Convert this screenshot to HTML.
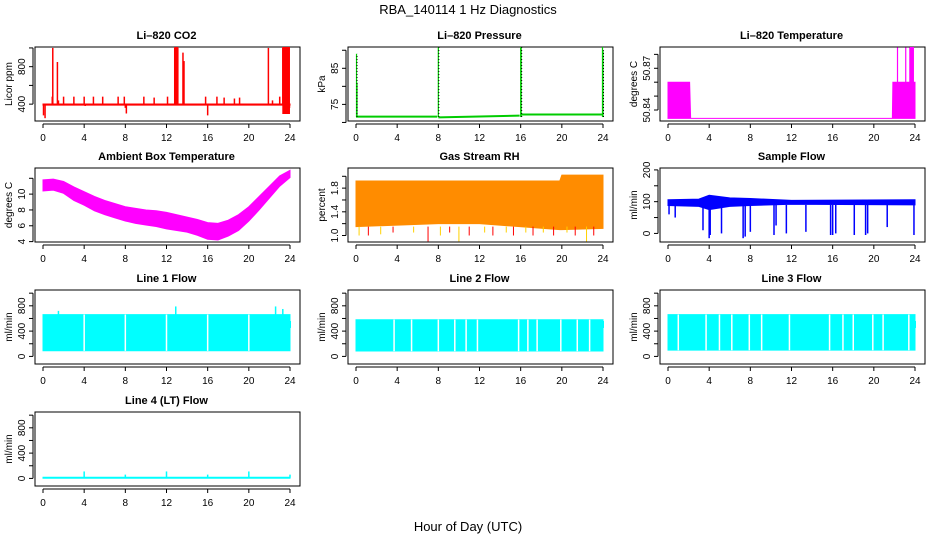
<!DOCTYPE html>
<html><head><meta charset="utf-8"><style>
html,body{margin:0;padding:0;background:#fff}
svg{display:block;font-family:"Liberation Sans",sans-serif}
</style></head><body>
<svg id="chart" width="936" height="540" viewBox="0 0 936 540" xmlns="http://www.w3.org/2000/svg">
<text x="468" y="14" text-anchor="middle" font-size="13">RBA_140114  1 Hz Diagnostics</text>
<text x="468" y="531" text-anchor="middle" font-size="13">Hour of Day (UTC)</text>
</svg>
<script>
// ---- data arrays ----
const xTicks = [0,4,8,12,16,20,24];
// CO2
const co2Base = 395;
const co2SpikeT = [0.05,0.2,0.9,0.95,1.4,1.5,2.0,3.0,4.0,4.1,4.9,5.8,7.3,7.9,8.0,8.1,9.8,10.8,12.1,12.8,12.9,13.0,13.1,13.6,13.7,15.8,16.0,16.9,17.6,18.6,19.1,21.9,22.3,23.0,23.3,23.45,23.55,23.65,23.75,23.85,23.95];
const co2SpikeV = [280,250,480,1000,850,440,480,480,480,380,480,480,480,480,360,300,480,470,480,1000,1000,1000,1000,950,860,480,280,480,470,460,470,1000,440,480,1000,1000,1000,1000,1000,1000,360];
// Pressure
const presSegT = [0,7.9,8.0,15.9,16.0,23.9];
const presSegV = [71.6,71.6,71.4,71.9,72.2,72.2];
const presSpikeT = [0.05,0.1,8.0,16.0,16.05,23.95,24.0];
const presSpikeV = [89,81,91,91,91,91,90];
// Li-820 temperature
const tempBandT = [0,2.1,2.2,21.8,21.85,24];
const tempBandHi = [50.860,50.860,50.834,50.834,50.860,50.860];
const tempBandLo = [50.834,50.834,50.834,50.834,50.834,50.834];
const tempSpikeT = [22.3,23.1,23.5,23.6,23.7,23.8];
const tempSpikeV = [50.885,50.885,50.885,50.885,50.885,50.885];
// Ambient box temperature (hourly)
const ambT = [0,1,2,3,4,5,6,7,8,9,10,11,12,13,14,15,16,17,18,19,20,21,22,23,24];
const ambHi = [11.8,11.9,11.6,10.9,10.3,9.7,9.2,8.8,8.4,8.2,8.0,7.9,7.7,7.4,7.1,6.8,6.4,6.3,6.7,7.4,8.4,9.7,11.0,12.3,13.0];
const ambLo = [10.4,10.5,10.1,9.2,8.6,7.9,7.4,7.0,6.6,6.3,6.1,5.9,5.6,5.4,5.2,4.8,4.3,4.2,4.7,5.4,6.6,8.0,9.5,11.0,12.1];
// Gas stream RH
const rhT = [0,8,12,19.8,20,24];
const rhHi = [1.92,1.92,1.92,1.92,2.02,2.02];
const rhLo = [1.15,1.2,1.2,1.1,1.1,1.12];
const rhDipT = [0.3,1.2,2.4,3.6,5.6,7.0,8.2,9.1,10.0,11.0,12.5,13.3,14.6,15.3,16.5,17.2,18.2,19.2,20.5,21.3,22.4,23.1];
const rhDipV = [1.0,1.0,1.02,1.05,1.05,0.9,1.0,1.05,0.9,1.0,1.05,1.0,1.05,1.0,1.05,1.0,1.05,1.0,1.05,1.0,0.9,1.0];
// Sample flow
const sfT = [0,3,4,6,8,12,24];
const sfHi = [106,108,120,112,110,104,106];
const sfLo = [88,85,75,85,88,92,90];
const sfDipT = [0.1,0.7,3.4,4.0,4.1,5.2,7.3,7.5,8.0,10.3,10.5,11.5,13.4,15.8,16.0,16.3,18.1,19.2,19.4,21.3,23.9];
const sfDipV = [60,50,10,-15,-5,0,-15,-10,5,-5,25,0,5,-5,-5,0,-5,-5,0,20,-5];
// Line flows
const l1Hi = 660, l1Lo = 90;
const l1GapT = [4.0,8.0,12.0,16.0,20.0];
const l1SpikeT = [1.5,12.9,22.6,23.3];
const l1SpikeV = [720,790,790,750];
const l2Hi = 580, l2Lo = 85;
const l2GapT = [3.7,5.4,8.0,9.6,10.7,11.8,15.8,16.7,17.6,19.9,21.5,22.7];
const l3Hi = 660, l3Lo = 100;
const l3GapT = [1.0,3.7,5.0,6.2,7.9,9.1,11.8,15.7,17.0,18.0,19.9,20.9,23.4];
const l4Base = 10;
const l4SpikeT = [4.0,8.0,12.0,16.0,20.0,24.0];
const l4SpikeV = [110,60,110,60,110,60];

// ---- layout ----
const NS = "http://www.w3.org/2000/svg";
const svg = document.getElementById('chart');
const colL = [33,346,658], rowT = [47,168,290,412], W = 267, H = 74;
function mk(tag, attrs, parent){
  const e = document.createElementNS(NS, tag);
  for (const k in attrs) e.setAttribute(k, attrs[k]);
  (parent||svg).appendChild(e);
  return e;
}
function panel(col,row,name,title,ylab,ymin,ymax,ticks,labels){
  const L = colL[col], T = rowT[row], B = T+H;
  const g = mk('g',{});
  
  
  const px = t => L+10 + t/24*247;
  const py = v => B - (v-ymin)/(ymax-ymin)*H;
  const box = mk('rect',{x:L+2,y:T,width:W-2,height:H,fill:'none',stroke:'#000','stroke-width':1},g);
  
  
  const tt = mk('text',{x:L+W/2,y:T-8,'text-anchor':'middle','font-size':11,'font-weight':'bold'},g);
  tt.textContent = title;
  
  
  const xa = mk('g',{},g);
  
  
  mk('line',{x1:px(0),x2:px(24),y1:B+3,y2:B+3,stroke:'#000'},xa);
  xTicks.forEach(t=>{
    mk('line',{x1:px(t),x2:px(t),y1:B+3,y2:B+7,stroke:'#000'},xa);
    const lb = mk('text',{x:px(t),y:B+20,'text-anchor':'middle','font-size':10},xa);
    lb.textContent = t;
    
    
  });
  const ya = mk('g',{},g);
  
  
  mk('line',{x1:L,x2:L,y1:py(ticks[0]),y2:py(ticks[ticks.length-1]),stroke:'#000'},ya);
  ticks.forEach(v=>mk('line',{x1:L-4,x2:L,y1:py(v),y2:py(v),stroke:'#000'},ya));
  labels.forEach(v=>{
    const lb = mk('text',{x:0,y:0,'text-anchor':'middle','font-size':10,transform:`translate(${L-8},${py(v)}) rotate(-90)`},ya);
    lb.textContent = v;
    
    
  });
  const yl = mk('text',{x:0,y:0,'text-anchor':'middle','font-size':10,transform:`translate(${L-21},${T+H/2}) rotate(-90)`},g);
  yl.textContent = ylab;
  
  
  const clip = 'c'+name;
  const cp = mk('clipPath',{id:clip},g);
  mk('rect',{x:L+2,y:T,width:W-2,height:H},cp);
  const d = mk('g',{'clip-path':`url(#${clip})`},g);
  
  
  return {px,py,d};
}
function band(p,ts,hi,lo,color,nm){
  let pts = ts.map((t,i)=>p.px(t)+','+p.py(hi[i]));
  for(let i=ts.length-1;i>=0;i--) pts.push(p.px(ts[i])+','+p.py(lo[i]));
  const e = mk('polygon',{points:pts.join(' '),fill:color,stroke:color,'stroke-width':1},p.d);
  
  
}
function vline(p,t,v0,v1,color,w,nm){
  const e = mk('line',{x1:p.px(t),x2:p.px(t),y1:p.py(v0),y2:p.py(v1),stroke:color,'stroke-width':w||1},p.d);
  
  
}

// CO2
let p = panel(0,0,'co2','Li\u2013820 CO2','Licor ppm',220,1010,[400,600,800,1000],[400,800]);
band(p,[0,24],[co2Base+6,co2Base+6],[co2Base-6,co2Base-6],'#ff0000','co2-baseline');
co2SpikeT.forEach((t,i)=>vline(p,t,co2Base,co2SpikeV[i],'#ff0000',1.5,'co2-spike'));
band(p,[12.8,13.1],[1010,1010],[co2Base,co2Base],'#ff0000','co2-block');
band(p,[23.3,23.95],[1010,1010],[300,300],'#ff0000','co2-block');
// Pressure
p = panel(1,0,'pressure','Li\u2013820 Pressure','kPa',70.4,90.9,[70,75,80,85,90],[75,85]);
for(let i=0;i<presSegT.length;i+=2){
  const e = mk('line',{x1:p.px(presSegT[i]),x2:p.px(presSegT[i+1]),y1:p.py(presSegV[i]),y2:p.py(presSegV[i+1]),stroke:'#00cc00','stroke-width':2},p.d);
  
  
}
presSpikeT.forEach((t,i)=>vline(p,t,71.5,presSpikeV[i],'#00cc00',1.2,'pressure-spike'));
presSpikeT.forEach((t,i)=>{ if(i%2==0||i==4) { const e=mk('line',{x1:p.px(t)+0.5,x2:p.px(t)+0.5,y1:p.py(71.5),y2:p.py(presSpikeV[i]),stroke:'#000','stroke-dasharray':'1,2'},p.d);   } });
// Li-820 temp
p = panel(2,0,'li820-temp','Li\u2013820 Temperature','degrees C',50.8321,50.8853,[50.84,50.85,50.86,50.87,50.88],[50.84,50.87]);
band(p,tempBandT,tempBandHi,tempBandLo,'#ff00ff','temp-band');
tempSpikeT.forEach((t,i)=>vline(p,t,50.86,tempSpikeV[i],'#ff00ff',1.2,'temp-spike'));
band(p,[23.55,23.85],[50.886,50.886],[50.86,50.86],'#ff00ff','temp-block');
// Ambient
p = panel(0,1,'ambient-temp','Ambient Box Temperature','degrees C',3.95,13.3,[4,6,8,10,12],[4,6,8,10]);
band(p,ambT,ambHi,ambLo,'#ff00ff','ambient-band');
// RH
p = panel(1,1,'rh','Gas Stream RH','percent',0.89,2.14,[1.0,1.2,1.4,1.6,1.8,2.0],['1.0','1.4','1.8']);
band(p,rhT,rhHi,rhLo,'#ff8c00','rh-band');
rhDipT.forEach((t,i)=>vline(p,t,rhLo[0],rhDipV[i],i%2?'#ff0000':'#ffd000',1,'rh-dip'));
// Sample flow
p = panel(2,1,'sample-flow','Sample Flow','ml/min',-27,206,[0,50,100,150,200],[0,100,200]);
band(p,sfT,sfHi,sfLo,'#0000ff','sample-flow-band');
sfDipT.forEach((t,i)=>vline(p,t,90,sfDipV[i],'#0000ff',1.5,'sample-flow-dip'));
// Line flows
function lineFlow(col,row,name,title,hi,lo,gaps,spT,spV){
  const q = panel(col,row,name,title,'ml/min',-120,1050,[0,200,400,600,800,1000],[0,400,800]);
  band(q,[0,24],[hi,hi],[lo,lo],'#00ffff',name+'-band');
  vline(q,24,450,560,'#00ffff',2,name+'-end');
  gaps.forEach(t=>vline(q,t,hi+2,lo-2,'#ffffff',1.5,name+'-gap'));
  (spT||[]).forEach((t,i)=>vline(q,t,hi,spV[i],'#00ffff',1.5,name+'-spike'));
  return q;
}
lineFlow(0,2,'line1-flow','Line 1 Flow',l1Hi,l1Lo,l1GapT,l1SpikeT,l1SpikeV);
lineFlow(1,2,'line2-flow','Line 2 Flow',l2Hi,l2Lo,l2GapT);
lineFlow(2,2,'line3-flow','Line 3 Flow',l3Hi,l3Lo,l3GapT);
p = panel(0,3,'line4-flow','Line 4 (LT) Flow','ml/min',-120,1050,[0,200,400,600,800,1000],[0,400,800]);
band(p,[0,24],[l4Base+8,l4Base+8],[l4Base-8,l4Base-8],'#00ffff','line4-baseline');
l4SpikeT.forEach((t,i)=>vline(p,t,l4Base,l4SpikeV[i],'#00ffff',1.5,'line4-spike'));
</script>
</body></html>
